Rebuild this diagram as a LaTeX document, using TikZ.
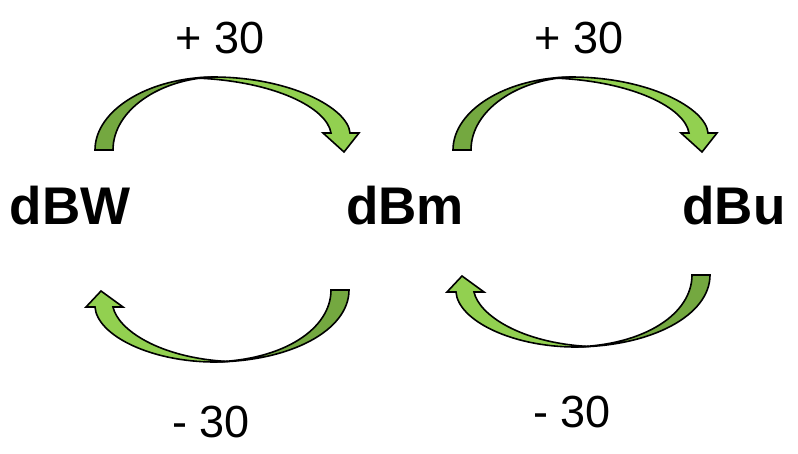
\documentclass[tikz,border=0pt]{standalone}
\usepackage{fontspec}
\setmainfont{Liberation Sans}
\definecolor{lightgreen}{HTML}{92D050}
\definecolor{darkgreen}{HTML}{74A840}
\begin{document}
\begin{tikzpicture}[x=1pt,y=-1pt,
  unitlabel/.style={font=\fontsize{53}{60}\selectfont\bfseries, anchor=base, inner sep=0pt},
  steplabel/.style={font=\fontsize{45}{52}\selectfont, anchor=base, inner sep=0pt},
  lightpart/.style={fill=lightgreen, draw=black, line width=1.6pt},
  darkpart/.style={fill=darkgreen, draw=black, line width=1.6pt}]
\useasboundingbox (0,0) rectangle (798,453);

% labels
\node[unitlabel] (dBW) at (70,224) {dBW};
\node[unitlabel] (dBm) at (405,224) {dBm};
\node[unitlabel] (dBu) at (734,224) {dBu};
\node[steplabel] (p1) at (220,53) {+ 30};
\node[steplabel] (p2) at (579,53) {+ 30};
\node[steplabel] (m1) at (211,437) {- 30};
\node[steplabel] (m2) at (572,427) {- 30};

% top arrows
\foreach \dx in {0,358}{
\begin{scope}[shift={(\dx,0)}]
\fill[lightpart] (195,78) -- (213,77) .. controls (290,77) and (348,108) .. (350,133)
  -- (359,133) -- (344,152) -- (323,133) -- (331,133)
  .. controls (327,108) and (275,81) .. (195,78) -- cycle;
\fill[darkpart] (95,150) .. controls (95,110) and (149,77) .. (215,77)
  .. controls (160,78.5) and (113,110) .. (113,150) -- cycle;
\end{scope}
}

% bottom arrows
\foreach \dx/\dy in {0/0,361/-15}{
\begin{scope}[shift={(\dx,\dy)}]
\fill[lightpart] (228,361.5) -- (215,362) .. controls (150,362) and (97,335) .. (95,307)
  -- (86,307) -- (101,291) -- (123,307) -- (113,307)
  .. controls (118,330) and (160,358) .. (228,361.5) -- cycle;
\fill[darkpart] (349,290) .. controls (349,330) and (291,362) .. (212,362)
  .. controls (285,360.5) and (331,328) .. (331,290) -- cycle;
\end{scope}
}
\end{tikzpicture}
\end{document}
